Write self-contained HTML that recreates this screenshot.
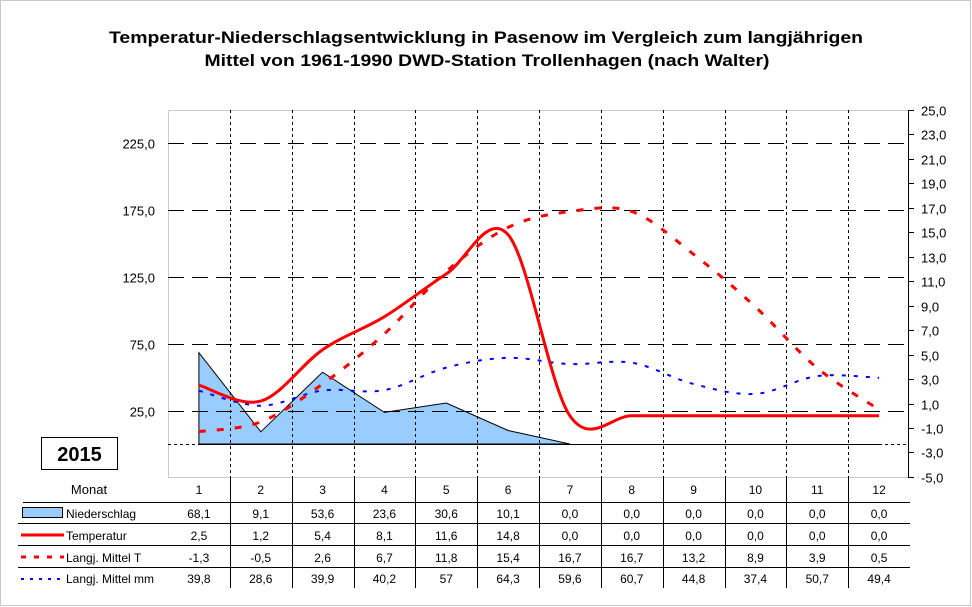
<!DOCTYPE html>
<html><head><meta charset="utf-8">
<style>
html,body{margin:0;padding:0;background:#fff;}
svg{display:block;font-family:"Liberation Sans",Arial,sans-serif;}
</style></head><body>
<svg id="s" width="972" height="607" xmlns="http://www.w3.org/2000/svg">
<rect x="0.5" y="0.5" width="970" height="605" fill="#fff" stroke="#c8c8c8"/>
<text x="486" y="43" text-anchor="middle" font-weight="bold" font-size="17" textLength="754" lengthAdjust="spacingAndGlyphs">Temperatur-Niederschlagsentwicklung in Pasenow im Vergleich zum langjährigen</text>
<text x="487" y="66" text-anchor="middle" font-weight="bold" font-size="17" textLength="565" lengthAdjust="spacingAndGlyphs">Mittel von 1961-1990 DWD-Station Trollenhagen (nach Walter)</text>
<g id="g"></g>
<rect x="41.5" y="437.5" width="76" height="32" fill="#fff" stroke="#000"/>
<text x="79.5" y="461" text-anchor="middle" font-weight="bold" font-size="20">2015</text>
</svg>
<script>
const g=document.getElementById('g');
let h='';
const L=168,R=908,T=110,B=477,W=(910-168)/12;
const cx=i=>L+(i+0.5)*W;
const ym=v=>444-v*1.34;
const yt=v=>110+(25-v)*12.23;
const N=[68.1,9.1,53.6,23.6,30.6,10.1,0,0,0,0,0,0];
const TP=[2.5,1.2,5.4,8.1,11.6,14.8,0,0,0,0,0,0];
const LT=[-1.3,-0.5,2.6,6.7,11.8,15.4,16.7,16.7,13.2,8.9,3.9,0.5];
const LM=[39.8,28.6,39.9,40.2,57,64.3,59.6,60.7,44.8,37.4,50.7,49.4];
// plot border
h+=`<rect x="${L}.5" y="${T}.5" width="${R-L}" height="${B-T}" fill="none" stroke="#999" stroke-dasharray="1,1"/>`;
// area
let p=`M${cx(0)},444 `;for(let i=0;i<7;i++)p+=`L${cx(i).toFixed(1)},${ym(N[i]).toFixed(1)} `;p+=`L${cx(6)},444Z`;
h+=`<path d="${p}" fill="#99ccff" stroke="#000" stroke-width="1"/>`;
// horizontal grid
[225,175,125,75,25].forEach(v=>{const y=Math.round(ym(v))+0.5;
h+=`<line x1="${L}" x2="${R}" y1="${y}" y2="${y}" stroke="#000" stroke-dasharray="16,8"/>`;
h+=`<text x="155" y="${y+5}" text-anchor="end" font-size="13">${v},0</text>`;});
// baseline
h+=`<line x1="${L}" x2="${cx(0)}" y1="444.5" y2="444.5" stroke="#000" stroke-dasharray="3,3"/>`;
h+=`<line x1="${cx(0)}" x2="${cx(11)}" y1="444.5" y2="444.5" stroke="#000"/>`;
h+=`<line x1="${cx(11)}" x2="${R}" y1="444.5" y2="444.5" stroke="#000" stroke-dasharray="3,3"/>`;
// vertical grid
for(let i=1;i<12;i++){const x=Math.round(L+i*W)+0.5;
h+=`<line x1="${x}" x2="${x}" y1="${T}" y2="${B}" stroke="#000" stroke-dasharray="3,3"/>`;
h+=`<line x1="${x}" x2="${x}" y1="${B}" y2="588" stroke="#000"/>`;}
// right axis
h+=`<line x1="908.5" x2="908.5" y1="${T}" y2="${B}" stroke="#000"/>`;
for(let v=25;v>=-5;v-=2){const y=Math.round(yt(v))+0.5;
h+=`<line x1="908" x2="914" y1="${y}" y2="${y}" stroke="#000"/>`;
h+=`<text x="921" y="${y+5}" font-size="13">${v.toFixed(1).replace('.',',')}</text>`;}
// smooth path
function sm(pts){let d=`M${pts[0][0].toFixed(1)},${pts[0][1].toFixed(1)}`;
for(let i=0;i<pts.length-1;i++){const p0=pts[i-1]||pts[i],p1=pts[i],p2=pts[i+1],p3=pts[i+2]||p2;
const c1=[p1[0]+(p2[0]-p0[0])/6,p1[1]+(p2[1]-p0[1])/6],c2=[p2[0]-(p3[0]-p1[0])/6,p2[1]-(p3[1]-p1[1])/6];
d+=` C${c1[0].toFixed(1)},${c1[1].toFixed(1)} ${c2[0].toFixed(1)},${c2[1].toFixed(1)} ${p2[0].toFixed(1)},${p2[1].toFixed(1)}`;}return d;}
h+=`<path d="${sm(LM.map((v,i)=>[cx(i),ym(v)]))}" fill="none" stroke="#0000ff" stroke-width="2" stroke-dasharray="4,8"/>`;
h+=`<path d="${sm(LT.map((v,i)=>[cx(i),yt(v)]))}" fill="none" stroke="#ff0000" stroke-width="3" stroke-dasharray="7,11"/>`;
h+=`<path d="${sm(TP.map((v,i)=>[cx(i),yt(v)]))}" fill="none" stroke="#ff0000" stroke-width="3"/>`;
// table
h+=`<line x1="23" x2="910" y1="502.5" y2="502.5" stroke="#000"/>`;
[523,545,567].forEach(y=>h+=`<line x1="18" x2="910" y1="${y+0.5}" y2="${y+0.5}" stroke="#000"/>`);
h+=`<text x="89" y="494" text-anchor="middle" font-size="13">Monat</text>`;
const rows=[N,TP,LT,LM.map(v=>v)];const ry=[518,540,562,583];
const lbl=['Niederschlag','Temperatur','Langj. Mittel T','Langj. Mittel mm'];
for(let i=0;i<12;i++)h+=`<text x="${cx(i)}" y="494" text-anchor="middle" font-size="12">${i+1}</text>`;
rows.forEach((r,k)=>{r.forEach((v,i)=>{let s=(k==3&&Number.isInteger(v))?String(v):v.toFixed(1).replace('.',',');
h+=`<text x="${cx(i)}" y="${ry[k]}" text-anchor="middle" font-size="12">${s}</text>`;});
h+=`<text x="66" y="${ry[k]}" font-size="12">${lbl[k]}</text>`;});
h+=`<rect x="22.5" y="507.5" width="40" height="10" fill="#99ccff" stroke="#000"/>`;
h+=`<line x1="21" x2="64" y1="535" y2="535" stroke="#f00" stroke-width="3"/>`;
h+=`<line x1="21" x2="64" y1="557" y2="557" stroke="#f00" stroke-width="3" stroke-dasharray="5,8"/>`;
h+=`<line x1="21" x2="64" y1="579" y2="579" stroke="#00f" stroke-width="2" stroke-dasharray="3,6"/>`;
g.innerHTML=h;
</script>
</body></html>
